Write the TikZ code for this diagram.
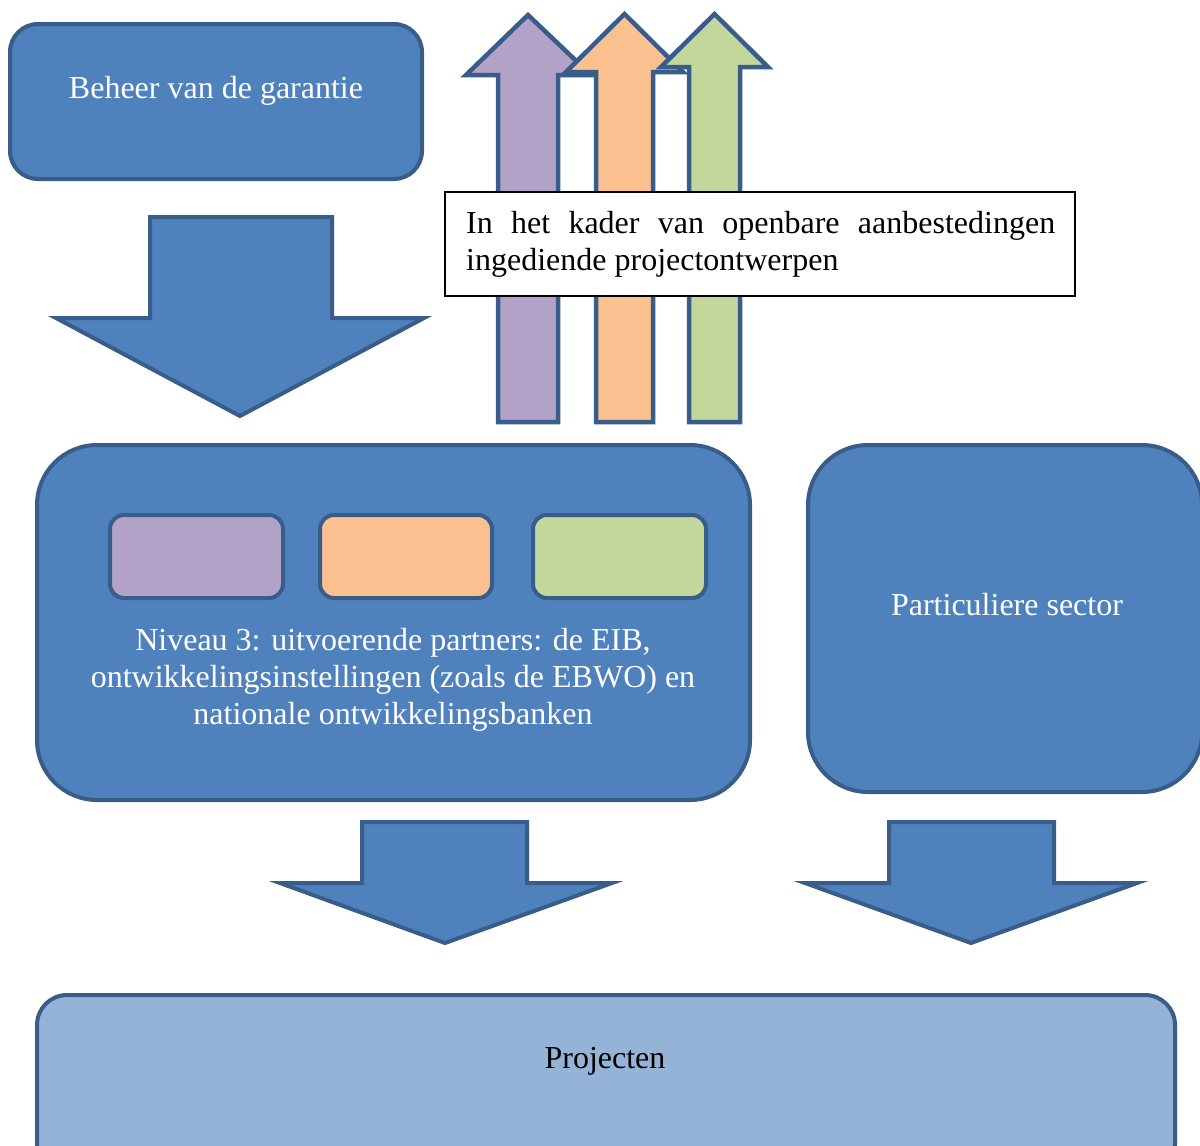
\documentclass[tikz,border=0pt]{standalone}
\usepackage{fontspec}
\setmainfont{Liberation Serif}
\definecolor{mainblue}{HTML}{4F81BD}
\definecolor{edgeblue}{HTML}{385D8A}
\definecolor{lightblue}{HTML}{95B3D7}
\definecolor{lpurple}{HTML}{B2A2C7}
\definecolor{lorange}{HTML}{FAC090}
\definecolor{lgreen}{HTML}{C3D69B}
\begin{document}
\begin{tikzpicture}[x=1pt,y=-1pt,
  blk/.style={fill=mainblue, draw=edgeblue, line width=4pt, line join=miter},
  upar/.style={draw=edgeblue, line width=4.5pt, line join=miter},
  roundbox/.style={blk, rectangle, inner sep=0pt},
  wtext/.style={text=white, font=\fontsize{32}{37}\selectfont, align=center, inner sep=0pt},
  btext/.style={text=black, font=\fontsize{32}{37}\selectfont, inner sep=0pt}
]
\useasboundingbox (0,0) rectangle (1200,1146);
\clip (0,0) rectangle (1200,1146);
\fill[white] (0,0) rectangle (1200,1146);

% top-left box
\node[roundbox, rounded corners=28pt, minimum width=412pt, minimum height=155pt] (beheer) at (216,101.5) {};
\node[wtext] (beheertxt) at (216,91) {Beheer van de garantie};

% big down arrow
\draw[blk] (150,217) -- (332,217) -- (332,318) -- (424,318) -- (240,416) -- (56,318) -- (150,318) -- cycle;

% up arrows
\draw[upar, fill=lpurple] (498,422) -- (498,75) -- (466,75) -- (528,15) -- (591,75) -- (558,75) -- (558,422) -- cycle;
\draw[upar, fill=lorange] (596,422) -- (596,72) -- (566,72) -- (624.5,14) -- (683,72) -- (653,72) -- (653,422) -- cycle;
\draw[upar, fill=lgreen] (689,422) -- (689,67) -- (661,67) -- (714.5,14) -- (768,67) -- (740,67) -- (740,422) -- cycle;

% text box
\node[draw=black, line width=1.8pt, fill=white, minimum width=630pt, minimum height=104pt, inner sep=0pt] (tender) at (760,244) {};
\node[btext, text width=589pt, align=justify, anchor=north west] (tendertxt) at (466,211)
  {In het kader van openbare aanbestedingen ingediende projectontwerpen};

% main box
\node[roundbox, rounded corners=60pt, minimum width=713pt, minimum height=355pt] (niveau) at (393.5,622.5) {};
\node[roundbox, fill=lpurple, rounded corners=14pt, minimum width=173pt, minimum height=83pt] (p1) at (196.5,556.5) {};
\node[roundbox, fill=lorange, rounded corners=14pt, minimum width=172pt, minimum height=83pt] (p2) at (406,556.5) {};
\node[roundbox, fill=lgreen, rounded corners=14pt, minimum width=173pt, minimum height=83pt] (p3) at (619.5,556.5) {};
\node[wtext] (niveautxt) at (393,680) {Niveau 3: uitvoerende partners: de EIB,\\ontwikkelingsinstellingen (zoals de EBWO) en\\nationale ontwikkelingsbanken};

% right box
\node[roundbox, rounded corners=60pt, minimum width=394pt, minimum height=347pt] (priv) at (1005,618.5) {};
\node[wtext] (privtxt) at (1007,605) {Particuliere sector};

% bottom arrows
\draw[blk] (362,822) -- (527,822) -- (527,883) -- (612,883) -- (445,943) -- (280,883) -- (362,883) -- cycle;
\draw[blk] (889,822) -- (1054,822) -- (1054,883) -- (1137,883) -- (971,943) -- (805,883) -- (889,883) -- cycle;

% projecten
\node[roundbox, fill=lightblue, rounded corners=30pt, minimum width=1138pt, minimum height=180pt] (proj) at (606,1085) {};
\node[btext] (projtxt) at (605,1061) {Projecten};
\end{tikzpicture}
\end{document}
